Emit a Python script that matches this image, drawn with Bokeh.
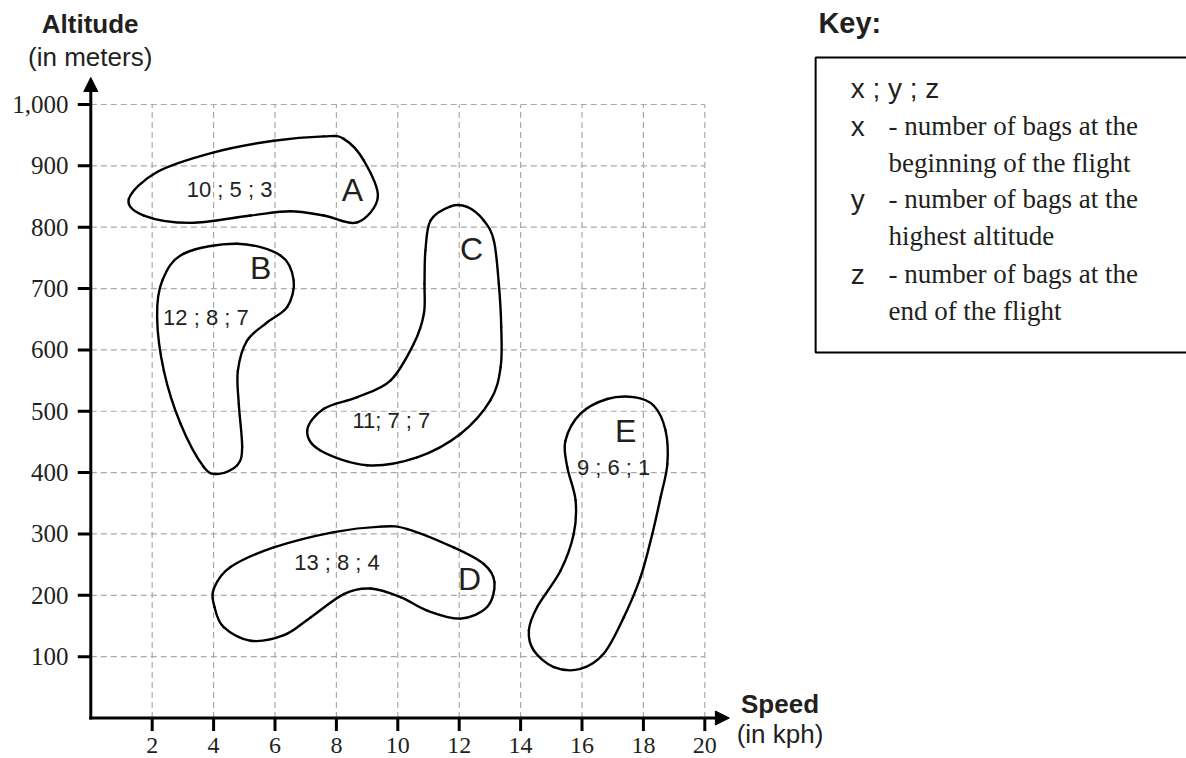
import numpy as np
from bokeh.plotting import figure
from bokeh.models import Range1d, Arrow, NormalHead, ColumnDataSource
from bokeh.core.properties import value
from bokeh.embed import file_html
from bokeh.resources import INLINE

# ---------------- data ----------------
x_ticks = [2, 4, 6, 8, 10, 12, 14, 16, 18, 20]
x_tick_labels = ["2", "4", "6", "8", "10", "12", "14", "16", "18", "20"]
y_ticks = [100, 200, 300, 400, 500, 600, 700, 800, 900, 1000]
y_tick_labels = ["100", "200", "300", "400", "500", "600", "700", "800", "900", "1,000"]

region_names = ["A", "B", "C", "D", "E"]
region_letter_x = [8.52, 5.53, 12.40, 12.34, 17.42]
region_letter_y = [860, 734, 764, 227, 467]
region_values = ["10 ; 5 ; 3", "12 ; 8 ; 7", "11; 7 ; 7", "13 ; 8 ; 4", "9 ; 6 ; 1"]
region_value_x = [4.52, 3.75, 9.79, 8.02, 17.03]
region_value_y = [861, 653, 485, 254, 409]

# outlines (speed in kph, altitude in m)
a_x = [1.24, 2.16, 4.01, 5.96, 7.59, 8.24, 8.89, 9.35, 8.68, 7.59, 6.50, 5.20, 3.25, 1.73]
a_y = [846, 890, 922, 941, 948, 944, 909, 849, 808, 819, 826, 819, 807, 819]
b_x = [4.77, 6.18, 6.61, 6.40, 5.75, 5.09, 4.79, 4.82, 4.93, 4.77, 4.17, 3.68, 2.92, 2.38, 2.16, 2.33, 3.03]
b_y = [773, 754, 713, 670, 645, 615, 566, 512, 441, 412, 398, 409, 480, 566, 653, 713, 757]
c_x = [11.72, 11.07, 10.90, 10.87, 10.85, 10.52, 9.76, 8.68, 7.59, 7.05, 7.48, 9.00, 10.63,
       12.04, 13.02, 13.35, 13.37, 13.29, 13.13, 12.80, 12.26]
c_y = [834, 811, 762, 708, 659, 610, 550, 523, 504, 469, 436, 412, 425,
       463, 518, 572, 637, 708, 778, 811, 833]
d_x = [4.01, 4.55, 5.96, 7.92, 9.44, 10.31, 11.82, 12.80, 13.15, 12.91, 12.04, 10.96, 10.09,
       9.11, 8.24, 7.16, 6.29, 5.20, 4.33, 4.03]
d_y = [211, 246, 278, 303, 312, 308, 278, 251, 221, 181, 162, 175, 197,
       211, 202, 164, 135, 126, 148, 181]
e_x = [17.69, 18.34, 18.72, 18.78, 18.56, 18.29, 17.91, 17.36, 16.71, 15.95, 15.08, 14.43, 14.27,
       14.54, 15.30, 15.73, 15.79, 15.52, 15.46, 15.95, 16.82]
e_y = [523, 509, 469, 414, 360, 300, 230, 164, 105, 80, 83, 110, 143,
       181, 240, 300, 355, 409, 452, 496, 520]
outlines = [(a_x, a_y), (b_x, b_y), (c_x, c_y), (d_x, d_y), (e_x, e_y)]

key_title = "Key:"
key_header = "x ; y ; z"
key_symbols = ["x", "y", "z"]
key_lines = ["- number of bags at the", "beginning of the flight",
             "- number of bags at the", "highest altitude",
             "- number of bags at the", "end of the flight"]

# ---------------- figure ----------------
W, H = 1186, 758
p = figure(width=W, height=H, x_range=Range1d(-2.941, 35.69), y_range=Range1d(-66.0, 1169.5),
           output_backend="svg", toolbar_location=None, min_border=0,
           x_axis_location=None, y_axis_location=None, outline_line_color=None)
p.grid.visible = False
p.background_fill_color = "white"
p.border_fill_color = "white"

INK = "#231f20"
SANS = value("Liberation Sans")
SERIF = value("Liberation Serif")

# dashed grid
p.segment(x0=x_ticks, y0=[0] * len(x_ticks), x1=x_ticks, y1=[1000] * len(x_ticks),
          line_color="#aaaaaa", line_width=1.2, line_dash="6 4")
p.segment(x0=[0] * len(y_ticks), y0=y_ticks, x1=[20] * len(y_ticks), y1=y_ticks,
          line_color="#aaaaaa", line_width=1.2, line_dash="6 4")

# outlines drawn as closed smooth bezier curves through the traced points
def closed_curve(xs, ys):
    P = np.column_stack([xs, ys]).astype(float)
    p1 = np.roll(P, -1, 0)
    pm = np.roll(P, 1, 0)
    p2 = np.roll(P, -2, 0)
    c0 = P + (p1 - pm) / 6.0
    c1 = p1 - (p2 - P) / 6.0
    return ColumnDataSource(dict(x0=P[:, 0], y0=P[:, 1], x1=p1[:, 0], y1=p1[:, 1],
                                 cx0=c0[:, 0], cy0=c0[:, 1], cx1=c1[:, 0], cy1=c1[:, 1]))

for xs, ys in outlines:
    p.bezier(x0="x0", y0="y0", x1="x1", y1="y1", cx0="cx0", cy0="cy0", cx1="cx1", cy1="cy1",
             source=closed_curve(xs, ys), line_color="black", line_width=2.4, line_cap="round")

# axes with arrowheads
p.add_layout(Arrow(end=NormalHead(size=14, fill_color="black", line_color="black"),
                   x_start=-0.05, y_start=0, x_end=20.8, y_end=0,
                   line_color="black", line_width=3))
p.add_layout(Arrow(end=NormalHead(size=14, fill_color="black", line_color="black"),
                   x_start=0, y_start=-2.4, x_end=0, y_end=1044,
                   line_color="black", line_width=3))
p.ray(x=x_ticks, y=[0] * len(x_ticks), length=13, length_units="screen",
      angle=-np.pi / 2, line_color="black", line_width=3)
p.ray(x=[0] * len(y_ticks), y=y_ticks, length=13, length_units="screen",
      angle=np.pi, line_color="black", line_width=3)

def txt(x, y, t, font, size, align="left", style="normal"):
    p.text(x=x, y=y, text=t, text_font=font, text_font_size=size, text_font_style=style,
           text_align=align, text_baseline="middle", text_color=INK)

# tick labels
txt(x_ticks, [-45.6] * len(x_ticks), x_tick_labels, SERIF, "24px", "center")
txt([-0.726] * len(y_ticks), y_ticks, y_tick_labels, SERIF, "25px", "right")

# axis titles
txt([-0.02], [1130.4], ["Altitude"], SANS, "26px", "center", "bold")
txt([-0.02], [1078.2], ["(in meters)"], SANS, "26px", "center")
txt([22.45], [23.6], ["Speed"], SANS, "26px", "center", "bold")
txt([22.45], [-25.3], ["(in kph)"], SANS, "26px", "center")

# region texts
txt(region_letter_x, region_letter_y, region_names, SANS, "32px", "center")
txt(region_value_x, region_value_y, region_values, SANS, "22px", "center")

# key
p.quad(left=[23.61], right=[36.5], top=[1076.6], bottom=[595.8], fill_color=None,
       line_color="black", line_width=2)
txt([23.70], [1133.2], [key_title], SANS, "29px", "left", "bold")
txt([24.75], [1026.7], [key_header], SANS, "28px", "left")
txt([24.75] * 3, [964.8, 845.8, 723.5], key_symbols, SANS, "28px", "left")
txt([25.98] * 6, [964.8, 904.5, 845.8, 785.5, 723.5, 663.2], key_lines, SERIF, "27px", "left")

open("out.html", "w").write(file_html(p, INLINE))
